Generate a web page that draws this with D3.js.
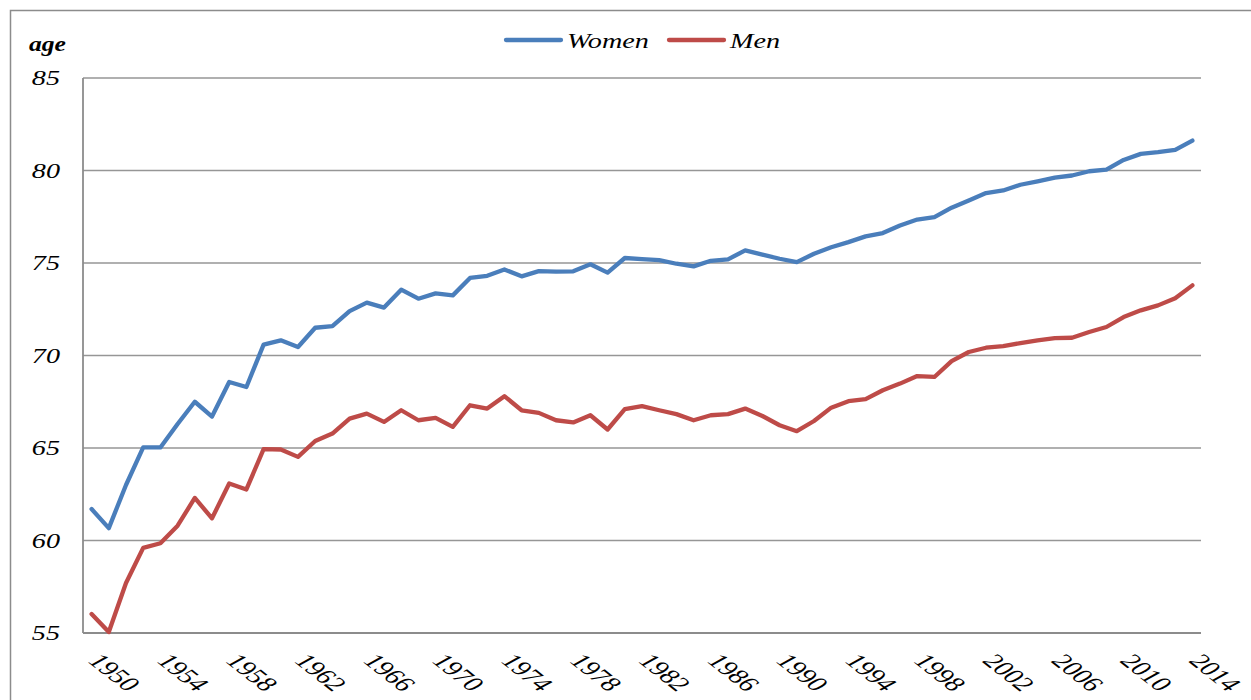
<!DOCTYPE html>
<html>
<head>
<meta charset="utf-8">
<script src="https://cdn.jsdelivr.net/npm/d3@7"></script>
<style>
  html, body { margin: 0; padding: 0; background: #fff; }
  svg { display: block; }
  text { font-family: "Liberation Serif", "Times New Roman", Tinos, "DejaVu Serif", serif; }
</style>
</head>
<body>
<svg id="chart" width="1251" height="700"></svg>
<script>
const years = d3.range(1950, 2015);
const women = [61.7, 60.67, 63.0, 65.03, 65.03, 66.3, 67.5, 66.7, 68.57, 68.3,
  70.59, 70.82, 70.46, 71.5, 71.59, 72.4, 72.86, 72.59, 73.56, 73.07,
  73.36, 73.25, 74.19, 74.31, 74.65, 74.28, 74.56, 74.53, 74.55, 74.93,
  74.48, 75.27, 75.21, 75.16, 74.96, 74.82, 75.12, 75.2, 75.68, 75.45,
  75.23, 75.05, 75.5, 75.85, 76.13, 76.44, 76.62, 77.03, 77.35, 77.48,
  77.99, 78.38, 78.78, 78.92, 79.23, 79.41, 79.61, 79.73, 79.96, 80.05,
  80.57, 80.9, 80.99, 81.12, 81.62];
const men = [56.03, 55.05, 57.7, 59.6, 59.85, 60.8, 62.3, 61.2, 63.08, 62.76,
  64.94, 64.92, 64.52, 65.38, 65.78, 66.59, 66.86, 66.41, 67.04, 66.5,
  66.63, 66.14, 67.31, 67.13, 67.8, 67.04, 66.9, 66.5, 66.38, 66.77,
  66.0, 67.1, 67.26, 67.04, 66.83, 66.5, 66.77, 66.83, 67.13, 66.73,
  66.23, 65.91, 66.46, 67.18, 67.53, 67.64, 68.12, 68.48, 68.89, 68.84,
  69.7, 70.19, 70.42, 70.51, 70.67, 70.82, 70.94, 70.96, 71.27, 71.54,
  72.08, 72.44, 72.71, 73.1, 73.79];
const yTicks = [55, 60, 65, 70, 75, 80, 85];
const xTickYears = d3.range(1950, 2015, 4);
const seriesNames = ["Women", "Men"];
const seriesColors = ["#4a7ebb", "#be4b48"];

const svg = d3.select("#chart");
const plotLeft = 83, plotRight = 1201, plotTop = 78, plotBottom = 633;
const sx = 1.28; // horizontal stretch of the original picture's text

// outer border
svg.append("rect").attr("x", 10.5).attr("y", 10.5).attr("width", 1300).attr("height", 800)
  .attr("fill", "none").attr("stroke", "#8c8c8c").attr("stroke-width", 1.5);

const x = d3.scaleBand().domain(years).range([plotLeft, plotRight]);
const y = d3.scaleLinear().domain([55, 85]).range([plotBottom, plotTop]);
const cx = d => x(d) + x.bandwidth() / 2;

// gridlines
svg.append("g").selectAll("line").data(yTicks.filter(t => t > 55)).join("line")
  .attr("x1", plotLeft).attr("x2", plotRight)
  .attr("y1", d => y(d)).attr("y2", d => y(d))
  .attr("stroke", "#969696").attr("stroke-width", 1.4);

// axes lines
svg.append("line").attr("x1", plotLeft).attr("x2", plotLeft).attr("y1", plotTop).attr("y2", plotBottom)
  .attr("stroke", "#8c8c8c").attr("stroke-width", 1.8);
svg.append("line").attr("x1", plotLeft).attr("x2", plotRight).attr("y1", plotBottom).attr("y2", plotBottom)
  .attr("stroke", "#8c8c8c").attr("stroke-width", 1.8);

// y tick labels
svg.append("g").selectAll("text").data(yTicks).join("text")
  .attr("transform", d => `translate(60,${y(d)}) scale(${sx},1)`)
  .attr("dy", "0.33em")
  .attr("text-anchor", "end")
  .attr("font-style", "italic")
  .attr("font-size", 22).attr("fill", "#000")
  .text(d => d);

// y label
svg.append("text").attr("transform", `translate(29,51) scale(${sx},1)`)
  .attr("font-style", "italic").attr("font-weight", "bold")
  .attr("font-size", 20).text("age");

// x tick labels
svg.append("g").selectAll("text").data(xTickYears).join("text")
  .attr("transform", d => `translate(${cx(d) - 4},${662}) scale(${sx},1) rotate(45)`)
  .attr("text-anchor", "start")
  .attr("font-style", "italic")
  .attr("font-size", 22).attr("fill", "#000")
  .text(d => d);

// lines
const line = d3.line().x((d, i) => cx(years[i])).y(d => y(d));
[women, men].forEach((s, i) => {
  svg.append("path").datum(s).attr("d", line)
    .attr("fill", "none").attr("stroke", seriesColors[i]).attr("stroke-width", 4.3)
    .attr("stroke-linejoin", "round").attr("stroke-linecap", "round");
});

// legend
const legendPos = [506, 669];
seriesNames.forEach((n, i) => {
  const g = svg.append("g").attr("transform", `translate(${legendPos[i]},40)`);
  g.append("line").attr("x1", 0).attr("x2", 55).attr("y1", 0).attr("y2", 0)
    .attr("stroke", seriesColors[i]).attr("stroke-width", 4.3).attr("stroke-linecap", "round");
  g.append("text").attr("transform", `translate(61,8) scale(${sx},1)`)
    .attr("font-style", "italic")
    .attr("font-size", 22).text(n);
});
</script>
</body>
</html>
